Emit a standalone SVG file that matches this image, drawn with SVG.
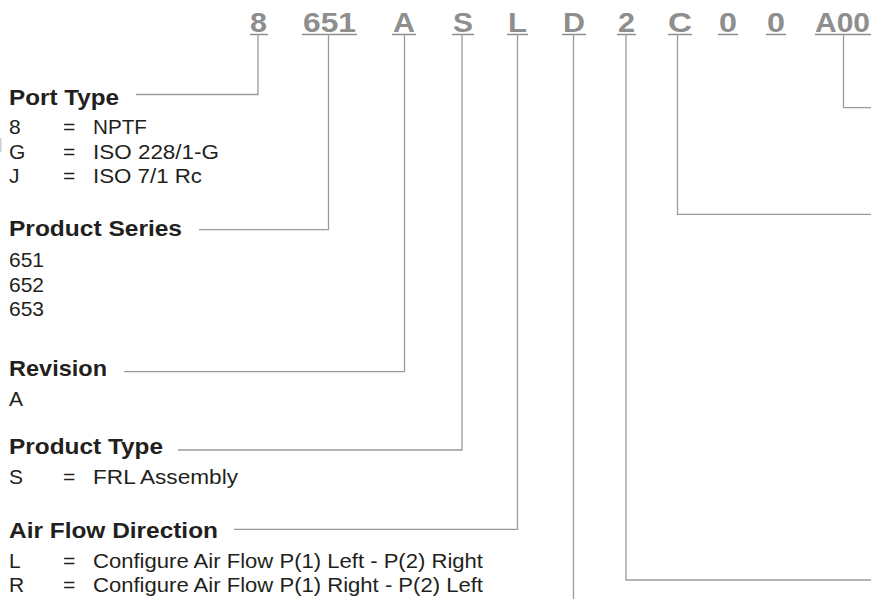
<svg xmlns="http://www.w3.org/2000/svg" width="871" height="599" viewBox="0 0 871 599">
<style>
.code{font-family:"Liberation Sans",Arial,sans-serif;font-weight:bold;font-size:27px;fill:#8e8e8e;text-anchor:middle}
.ul{stroke:#8e8e8e;stroke-width:1.6;fill:none}
.h{font-family:"Liberation Sans",Arial,sans-serif;font-weight:bold;font-size:22px;fill:#231f20}
.t{font-family:"Liberation Sans",Arial,sans-serif;font-size:21px;fill:#231f20}
.c{stroke:#9a9a9a;stroke-width:1.3;fill:none}
</style>
<rect width="871" height="599" fill="#ffffff"/>
<g id="code">
<text class="code" x="258.5" y="32" textLength="17" lengthAdjust="spacingAndGlyphs">8</text>
<text class="code" x="329.5" y="32" textLength="53" lengthAdjust="spacingAndGlyphs">651</text>
<text class="code" x="404" y="32" textLength="22" lengthAdjust="spacingAndGlyphs">A</text>
<text class="code" x="463" y="32" textLength="20" lengthAdjust="spacingAndGlyphs">S</text>
<text class="code" x="517.5" y="32" textLength="19" lengthAdjust="spacingAndGlyphs">L</text>
<text class="code" x="574" y="32" textLength="22" lengthAdjust="spacingAndGlyphs">D</text>
<text class="code" x="626.5" y="32" textLength="17" lengthAdjust="spacingAndGlyphs">2</text>
<text class="code" x="680" y="32" textLength="24" lengthAdjust="spacingAndGlyphs">C</text>
<text class="code" x="728" y="32" textLength="18" lengthAdjust="spacingAndGlyphs">0</text>
<text class="code" x="776" y="32" textLength="18" lengthAdjust="spacingAndGlyphs">0</text>
<text class="code" x="842.5" y="32" textLength="55" lengthAdjust="spacingAndGlyphs">A00</text>
<path class="ul" d="M250,34.5H268M302,34.5H357M392,34.5H416M452,34.5H474M507,34.5H528M562,34.5H586M617,34.5H636M668,34.5H692M718,34.5H738M766,34.5H786M815,34.5H871"/>
</g>
<g id="connectors">
<path class="c" d="M258,34V94.5H136"/>
<path class="c" d="M328.5,34V229.7H199"/>
<path class="c" d="M404.5,34V371.7H124"/>
<path class="c" d="M462,34V450H178"/>
<path class="c" d="M517.5,34V529.3H234"/>
<path class="c" d="M573.5,34V599"/>
<path class="c" d="M626,34V580H871"/>
<path class="c" d="M677.5,34V214.3H871"/>
<path class="c" d="M843.5,34V107.7H871"/>
<path d="M0.8,138V152" stroke="#c4c4c4" stroke-width="1.2"/>
</g>
<g id="port-type">
<text class="h" x="9" y="105" textLength="110" lengthAdjust="spacingAndGlyphs">Port Type</text>
<text class="t" x="9" y="134">8</text><text class="t" x="63" y="134">=</text><text class="t" x="93" y="134" textLength="54" lengthAdjust="spacingAndGlyphs">NPTF</text>
<text class="t" x="9" y="158.5">G</text><text class="t" x="63" y="158.5">=</text><text class="t" x="93" y="158.5" textLength="126" lengthAdjust="spacingAndGlyphs">ISO 228/1-G</text>
<text class="t" x="9" y="183">J</text><text class="t" x="63" y="183">=</text><text class="t" x="93" y="183" textLength="109" lengthAdjust="spacingAndGlyphs">ISO 7/1 Rc</text>
</g>
<g id="product-series">
<text class="h" x="9" y="236" textLength="173" lengthAdjust="spacingAndGlyphs">Product Series</text>
<text class="t" x="9" y="267">651</text>
<text class="t" x="9" y="291.5">652</text>
<text class="t" x="9" y="316">653</text>
</g>
<g id="revision">
<text class="h" x="9" y="376" textLength="98" lengthAdjust="spacingAndGlyphs">Revision</text>
<text class="t" x="9" y="406">A</text>
</g>
<g id="product-type">
<text class="h" x="9" y="454.3" textLength="154" lengthAdjust="spacingAndGlyphs">Product Type</text>
<text class="t" x="9" y="483.5">S</text><text class="t" x="63" y="483.5">=</text><text class="t" x="93" y="483.5" textLength="145" lengthAdjust="spacingAndGlyphs">FRL Assembly</text>
</g>
<g id="air-flow-direction">
<text class="h" x="9" y="538" textLength="209" lengthAdjust="spacingAndGlyphs">Air Flow Direction</text>
<text class="t" x="9" y="568">L</text><text class="t" x="63" y="568">=</text><text class="t" x="93" y="568" textLength="390" lengthAdjust="spacingAndGlyphs">Configure Air Flow P(1) Left - P(2) Right</text>
<text class="t" x="9" y="592">R</text><text class="t" x="63" y="592">=</text><text class="t" x="93" y="592" textLength="390" lengthAdjust="spacingAndGlyphs">Configure Air Flow P(1) Right - P(2) Left</text>
</g>
</svg>
